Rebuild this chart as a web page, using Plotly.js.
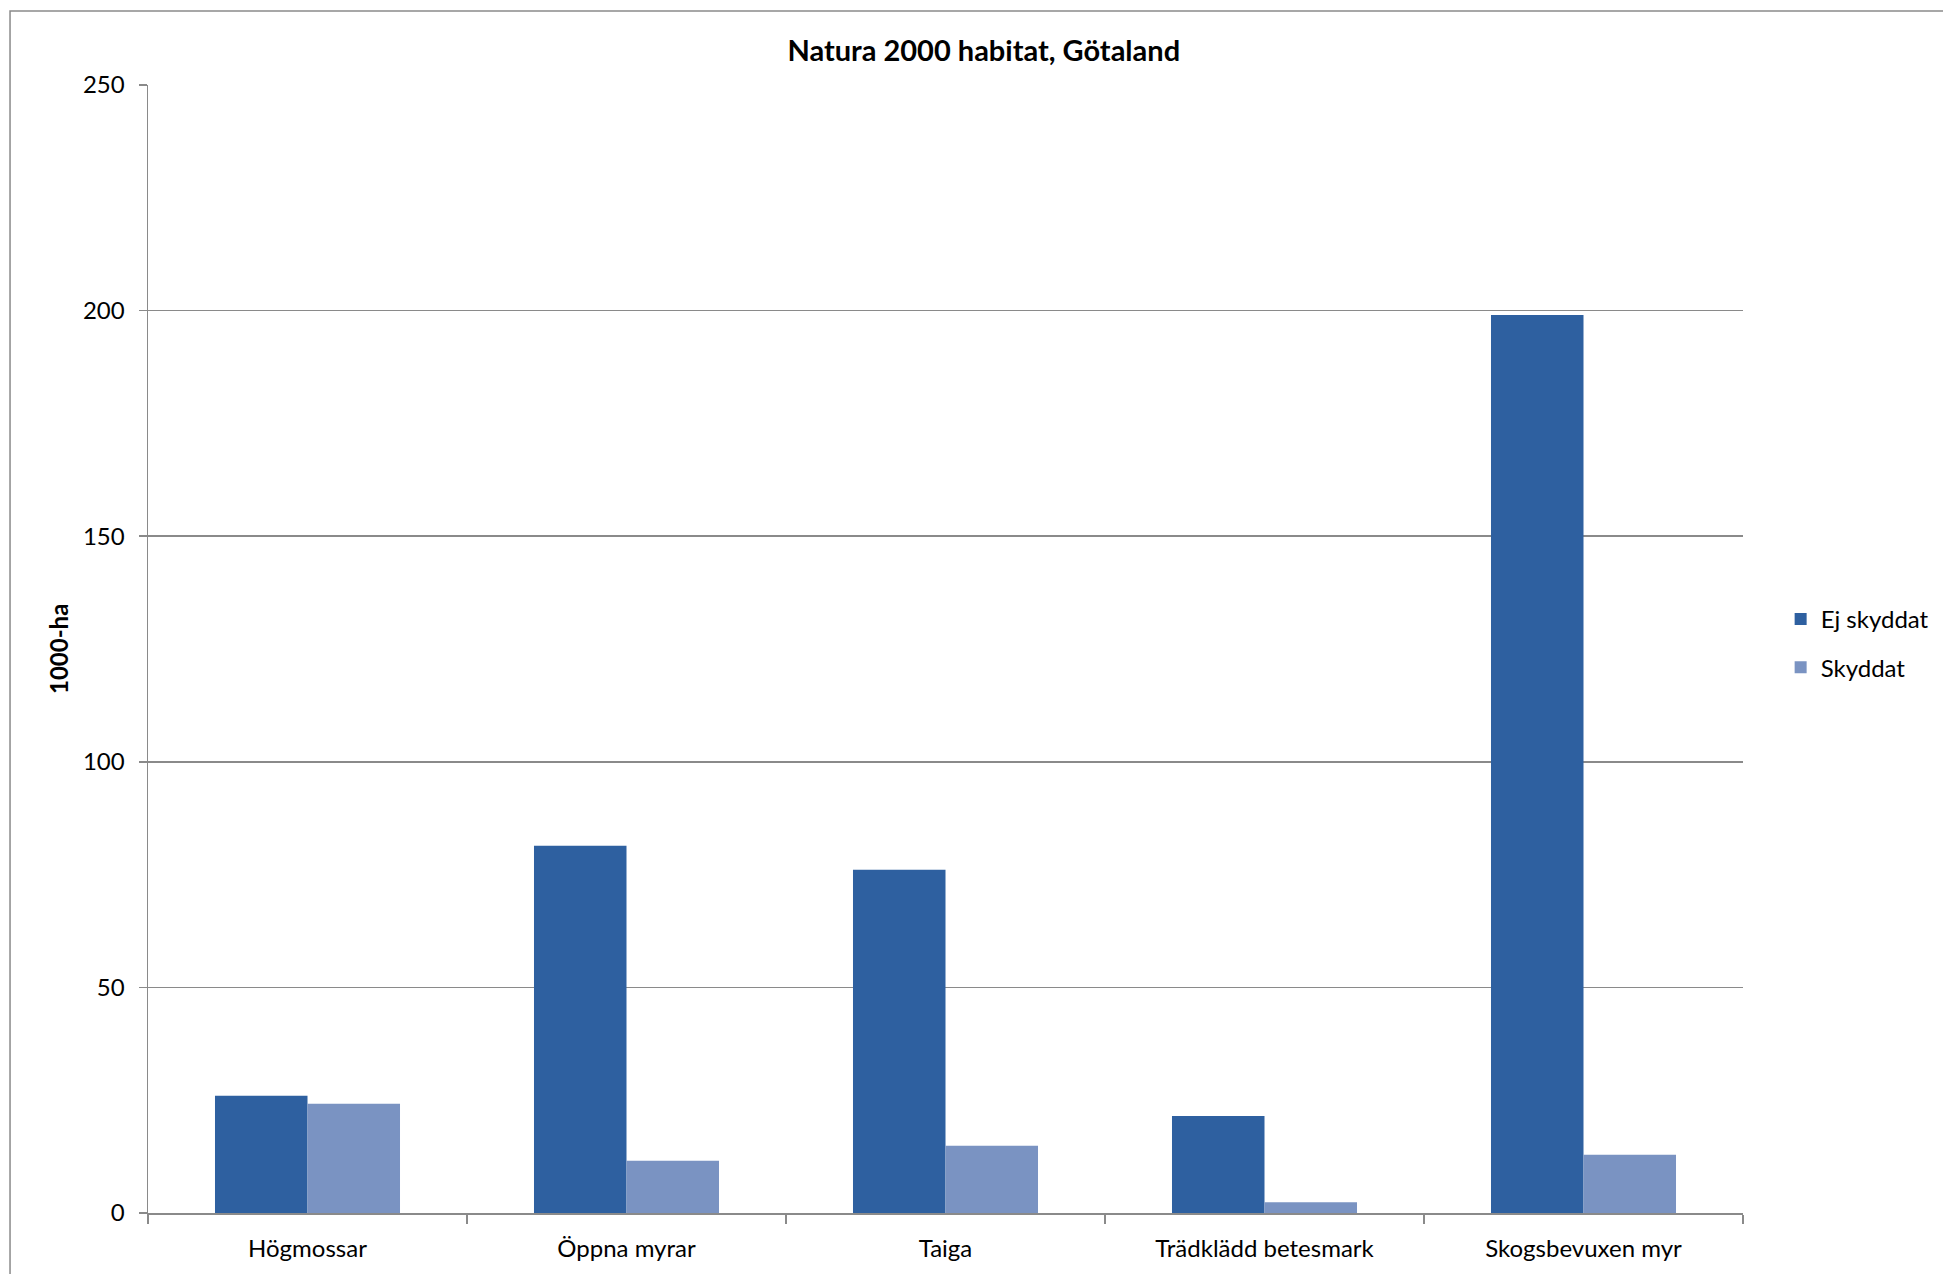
<!DOCTYPE html>
<html>
<head>
<meta charset="utf-8">
<script src="https://cdn.plot.ly/plotly-3.0.1.min.js"></script>
<style>html,body{margin:0;padding:0;background:#fff;}#chart{width:1943px;height:1274px;}</style>
</head>
<body>
<div id="chart"></div>
<script>
const categories = ["Högmossar", "Öppna myrar", "Taiga", "Trädklädd betesmark", "Skogsbevuxen myr"];
const ejSkyddat = [26.0, 81.4, 76.1, 21.5, 199.0];
const skyddat = [24.2, 11.6, 14.9, 2.4, 12.9];
const seriesNames = ["Ej skyddat", "Skyddat"];
const yTicks = [0, 50, 100, 150, 200, 250];

const FONT = "Lato, 'Open Sans', sans-serif";
const grid = "#8a8a8a";

const traces = [
  {type: "bar", name: seriesNames[0], legendgroup: "a", x: categories, y: ejSkyddat,
   marker: {color: "#2e60a0", line: {width: 0}}, hoverinfo: "x+y"},
  {type: "bar", name: seriesNames[1], legendgroup: "b", x: categories, y: skyddat,
   marker: {color: "#7a93c2", line: {width: 0}}, hoverinfo: "x+y"}
];

const layout = {
  width: 1943, height: 1274,
  paper_bgcolor: "#ffffff", plot_bgcolor: "#ffffff",
  margin: {l: 148, r: 200, t: 85, b: 61, pad: 0, autoexpand: false},
  font: {family: FONT, size: 24, color: "#000"},
  title: {text: "<b>Natura 2000 habitat, Götaland</b>", font: {family: FONT, size: 29, color: "#000"},
          x: 0.524, xref: "paper", xanchor: "center", y: 0.96, yref: "container", yanchor: "middle"},
  barmode: "group", bargap: 0.42, bargroupgap: 0,
  showlegend: true,
  legend: {x: 1.0236, xanchor: "left", y: 0.505, yanchor: "middle", font: {family: FONT, size: 24},
           bgcolor: "rgba(0,0,0,0)", traceorder: "grouped", tracegroupgap: 14, itemwidth: 30},
  xaxis: {type: "category", showgrid: false, showline: true, linecolor: grid, linewidth: 1.5,
          ticks: "outside", tickson: "boundaries", ticklen: 9, tickcolor: grid, tickwidth: 1.5,
          ticklabelstandoff: 14,
          tickfont: {family: FONT, size: 24}, zeroline: false, fixedrange: true},
  yaxis: {range: [0, 250], tickvals: yTicks, ticktext: yTicks.map(String),
          showgrid: true, gridcolor: grid, gridwidth: 1.5, showline: true, linecolor: grid, linewidth: 1.5,
          ticks: "outside", ticklen: 8, tickcolor: grid, tickwidth: 1.5,
          ticklabelstandoff: 9,
          tickfont: {family: FONT, size: 24}, zeroline: false, fixedrange: true},
  annotations: [
    {text: "<b>1000-ha</b>", xref: "paper", yref: "paper", x: -0.0564, y: 0.5, textangle: -90,
     showarrow: false, xanchor: "center", yanchor: "middle", font: {family: FONT, size: 24, color: "#000"}}
  ],
  shapes: [
    {type: "rect", xref: "paper", yref: "paper", x0: -0.0865, x1: 1.2, y0: -0.2, y1: 1.0656,
     line: {color: "#8a8a8a", width: 1.5}, fillcolor: "rgba(0,0,0,0)", layer: "below"}
  ]
};

Plotly.newPlot("chart", traces, layout, {displayModeBar: false, staticPlot: true});
</script>
</body>
</html>
